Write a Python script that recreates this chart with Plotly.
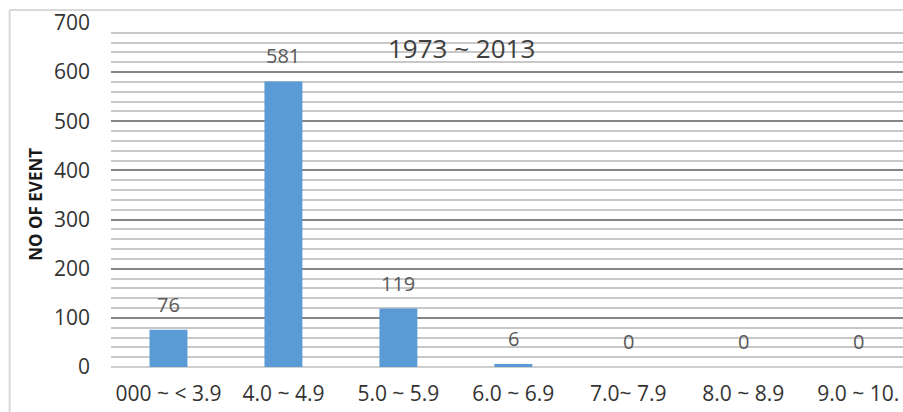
import plotly.graph_objects as go

# Magnitude classes and number of recorded events, 1973 ~ 2013
categories = ["000 ~ < 3.9", "4.0 ~ 4.9", "5.0 ~ 5.9", "6.0 ~ 6.9",
              "7.0~ 7.9", "8.0 ~ 8.9", "9.0 ~ 10."]
events = [76, 581, 119, 6, 0, 0, 0]
y_ticks = [0, 100, 200, 300, 400, 500, 600, 700]

FONT = "Open Sans"
BAR_COLOR = "#5B9BD5"

fig = go.Figure()
fig.add_trace(go.Bar(
    x=list(range(len(categories))),
    y=events,
    width=0.33,
    marker=dict(color=BAR_COLOR, line=dict(width=0)),
    hoverinfo="skip",
))

# value labels above each bar
for i, v in enumerate(events):
    fig.add_annotation(
        x=i, y=v, xref="x", yref="y", text=str(v), showarrow=False,
        yanchor="bottom", yshift=10,
        font=dict(family=FONT, size=20, color="#595959"),
    )

# period label inside the plot area
fig.add_annotation(
    x=0.442, y=0.927, xref="paper", yref="paper", text="1973 ~ 2013",
    showarrow=False, xanchor="center", yanchor="middle",
    font=dict(family=FONT, size=26, color="#404040"),
)

# vertical axis title
fig.add_annotation(
    x=-0.095, y=0.474, xref="paper", yref="paper", text="<b>NO OF EVENT</b>",
    showarrow=False, textangle=-90, xanchor="center", yanchor="middle",
    font=dict(family=FONT, size=17, color="#1a1a1a"),
)

# chart frame (top and left edges)
fig.add_shape(type="line", xref="paper", yref="paper",
              x0=-0.128, x1=1.0, y0=1.038, y1=1.038,
              line=dict(color="#d9d9d9", width=2))
fig.add_shape(type="line", xref="paper", yref="paper",
              x0=-0.128, x1=-0.128, y0=1.038, y1=-0.2,
              line=dict(color="#d9d9d9", width=2))

fig.update_layout(
    width=903, height=412,
    margin=dict(l=111, r=0, t=23, b=45),
    paper_bgcolor="white", plot_bgcolor="white",
    showlegend=False,
    font=dict(family=FONT, color="#404040"),
    xaxis=dict(
        range=[-0.5, 6.39],
        tickmode="array",
        tickvals=list(range(len(categories))),
        ticktext=categories,
        showgrid=False, zeroline=False, showline=False,
        ticks="", ticklabelstandoff=12,
        tickfont=dict(family=FONT, size=21, color="#333333"),
        fixedrange=True,
    ),
    yaxis=dict(
        range=[0, 700],
        tickmode="array",
        tickvals=y_ticks,
        showgrid=True, gridcolor="#858585", gridwidth=2,
        minor=dict(dtick=20, showgrid=True, gridcolor="#c8c8c8", gridwidth=2),
        zeroline=True, zerolinecolor="#cfcfcf", zerolinewidth=2,
        showline=False, ticks="", ticklabelstandoff=20,
        tickfont=dict(family=FONT, size=21, color="#333333"),
        fixedrange=True,
    ),
)

fig.write_html("out.html")
